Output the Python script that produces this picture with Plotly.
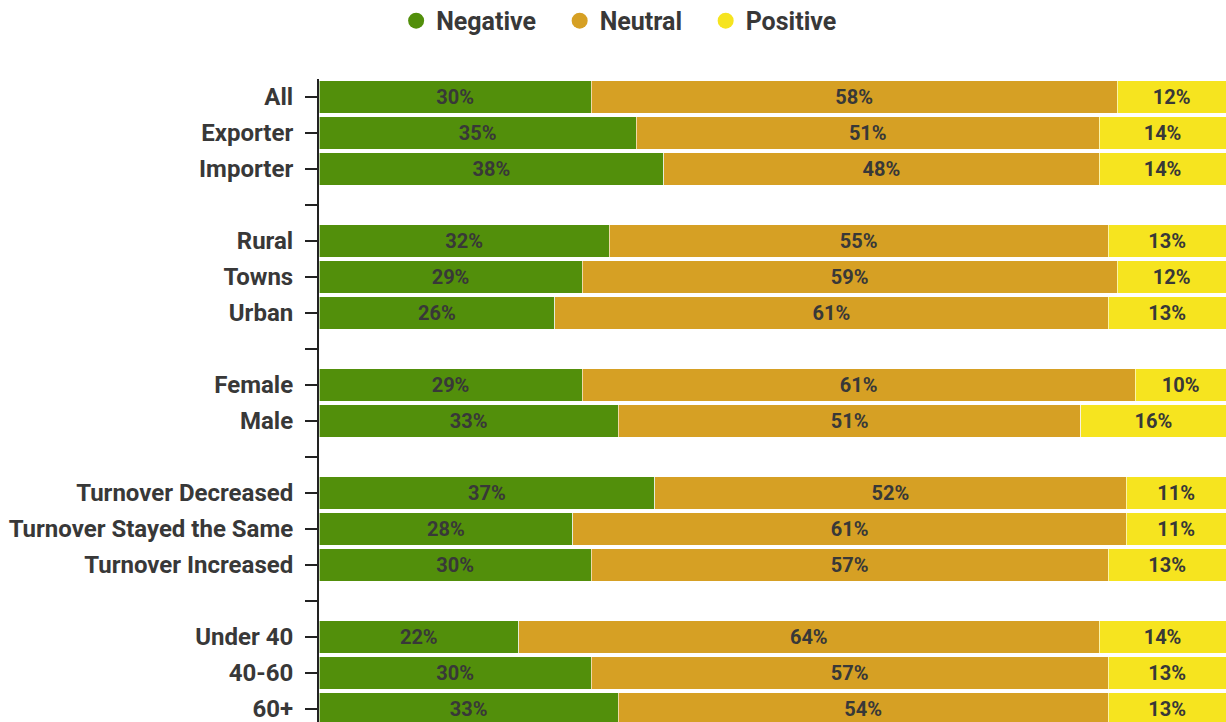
import plotly.graph_objects as go

categories = ["All", "Exporter", "Importer", " ",
              "Rural", "Towns", "Urban", "  ",
              "Female", "Male", "   ",
              "Turnover Decreased", "Turnover Stayed the Same", "Turnover Increased", "    ",
              "Under 40", "40-60", "60+"]
negative = [30, 35, 38, None, 32, 29, 26, None, 29, 33, None, 37, 28, 30, None, 22, 30, 33]
neutral = [58, 51, 48, None, 55, 59, 61, None, 61, 51, None, 52, 61, 57, None, 64, 57, 54]
positive = [12, 14, 14, None, 13, 12, 13, None, 10, 16, None, 11, 11, 13, None, 14, 13, 13]

series_names = ["Negative", "Neutral", "Positive"]
series_values = [negative, neutral, positive]
series_colors = ["#528f0b", "#d6a024", "#f6e41f"]

FONT = "Roboto, sans-serif"
TXT = "#383838"
PAD = "\u00a0" * 3

fig = go.Figure()
for i, (name, vals, col) in enumerate(zip(series_names, series_values, series_colors)):
    fig.add_trace(go.Bar(
        y=categories, x=vals, name=name, orientation="h", showlegend=False,
        marker=dict(color=col, line=dict(color="rgba(255,255,255,0.6)", width=1)),
        text=[f"{v}%" if v is not None else "" for v in vals],
        textposition="inside", insidetextanchor="middle",
        textfont=dict(family=FONT, size=20, color=TXT, weight="bold"),
        hoverinfo="skip",
    ))
    # legend entry with round marker
    label = name + (PAD if i < len(series_names) - 1 else "")
    fig.add_trace(go.Scatter(
        x=[None], y=[None], mode="markers", name=label,
        marker=dict(symbol="circle", size=20, color=col),
        showlegend=True, hoverinfo="skip",
    ))

n = len(categories)
fig.update_layout(
    barmode="stack", bargap=0.1,
    width=1226, height=722,
    margin=dict(l=319, r=0, t=79, b=0, autoexpand=False),
    plot_bgcolor="white", paper_bgcolor="white",
    font=dict(family=FONT, color=TXT),
    legend=dict(orientation="h", x=0.505, xanchor="center", xref="container",
                y=0.971, yanchor="middle", yref="container",
                font=dict(family=FONT, size=25, color=TXT, weight="bold"),
                itemsizing="trace", traceorder="normal"),
)
fig.update_xaxes(range=[0, 100], visible=False, fixedrange=True)
fig.update_yaxes(
    type="category", categoryorder="array", categoryarray=categories,
    range=[n - 0.5 - 5 / 36, -0.5], automargin=False, fixedrange=True,
    showline=True, linecolor="#222", linewidth=2,
    ticks="outside", ticklen=12, tickcolor="#222", tickwidth=2,
    tickfont=dict(family=FONT, size=24, color=TXT, weight="bold"),
    ticklabelstandoff=7, showgrid=False, zeroline=False,
)
fig.write_html(
    "out.html",
    config={"displayModeBar": False},
    post_script="document.body.style.margin='0';document.body.style.overflow='hidden';",
)
